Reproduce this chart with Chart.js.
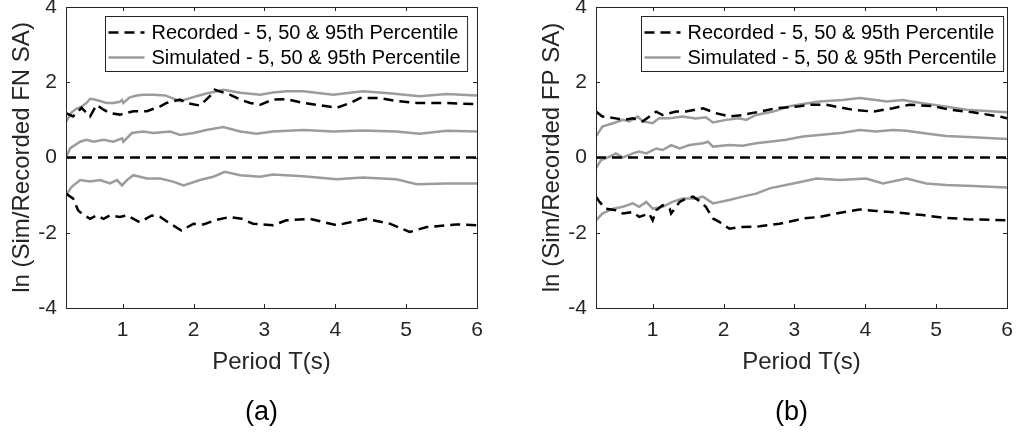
<!DOCTYPE html>
<html>
<head>
<meta charset="utf-8">
<script src="https://cdn.jsdelivr.net/npm/chart.js@4.4.1/dist/chart.umd.min.js"></script>
<style>
  html, body { margin: 0; padding: 0; background: #fff; }
  #wrap { position: relative; width: 1016px; height: 434px; overflow: hidden; }
  #chartA { position: absolute; left: 0; top: 0; }
  #chartB { position: absolute; left: 530px; top: 0; }
</style>
</head>
<body>
<div id="wrap">
  <canvas id="chartA" width="500" height="434"></canvas>
  <canvas id="chartB" width="486" height="434"></canvas>
</div>
<script>
// axis ticks
const xTicks = [1, 2, 3, 4, 5, 6];
const yTicks = [-4, -2, 0, 2, 4];

const recLabel = 'Recorded - 5, 50 & 95th Percentile';
const simLabel = 'Simulated - 5, 50 & 95th Percentile';

// ---- panel (a): FN ----
const aRec95T = [0.2, 0.3, 0.42, 0.54, 0.63, 0.73, 0.82, 0.96, 1.15, 1.34, 1.53, 1.62, 1.81, 1.9, 2.09, 2.23, 2.3, 2.51, 2.66, 2.8, 2.94, 3.12, 3.31, 3.55, 3.88, 4.02, 4.21, 4.35, 4.63, 4.86, 5.15, 5.57, 5.94, 6.0];
const aRec95  = [1.18, 1.09, 1.32, 1.09, 1.4, 1.27, 1.18, 1.14, 1.23, 1.23, 1.36, 1.45, 1.54, 1.45, 1.38, 1.63, 1.8, 1.67, 1.54, 1.45, 1.4, 1.54, 1.55, 1.45, 1.36, 1.32, 1.45, 1.58, 1.58, 1.5, 1.45, 1.45, 1.42, 1.42];
const aRec50T = [0.2, 6.0];
const aRec50  = [0, 0];
const aRec5T  = [0.2, 0.3, 0.37, 0.42, 0.54, 0.63, 0.73, 0.82, 0.96, 1.06, 1.24, 1.41, 1.53, 1.67, 1.83, 2.0, 2.14, 2.3, 2.51, 2.68, 2.84, 3.12, 3.31, 3.64, 4.02, 4.44, 4.77, 5.05, 5.29, 5.71, 6.0];
const aRec5   = [-0.96, -1.09, -1.4, -1.49, -1.63, -1.54, -1.63, -1.54, -1.58, -1.54, -1.72, -1.54, -1.58, -1.76, -1.94, -1.76, -1.78, -1.67, -1.58, -1.63, -1.76, -1.8, -1.67, -1.63, -1.8, -1.63, -1.76, -1.98, -1.85, -1.78, -1.8];

const aSim95T = [0.2, 0.28, 0.35, 0.42, 0.49, 0.54, 0.59, 0.68, 0.77, 0.87, 0.96, 0.99, 1.01, 1.1, 1.2, 1.29, 1.43, 1.6, 1.81, 1.9, 2.04, 2.18, 2.3, 2.42, 2.66, 2.94, 3.12, 3.31, 3.55, 3.97, 4.39, 4.8, 5.19, 5.57, 6.0];
const aSim95  = [0.95, 1.2, 1.3, 1.35, 1.45, 1.56, 1.55, 1.5, 1.45, 1.45, 1.48, 1.53, 1.45, 1.6, 1.65, 1.67, 1.67, 1.65, 1.5, 1.55, 1.63, 1.7, 1.75, 1.8, 1.72, 1.67, 1.73, 1.76, 1.76, 1.67, 1.76, 1.7, 1.63, 1.69, 1.65];
const aSim50T = [0.2, 0.26, 0.4, 0.49, 0.59, 0.73, 0.87, 0.99, 1.01, 1.13, 1.29, 1.43, 1.67, 1.81, 2.0, 2.18, 2.42, 2.66, 2.89, 3.12, 3.55, 3.97, 4.39, 4.86, 5.19, 5.57, 6.0];
const aSim50  = [0, 0.25, 0.42, 0.47, 0.42, 0.47, 0.42, 0.51, 0.42, 0.65, 0.69, 0.65, 0.69, 0.6, 0.65, 0.73, 0.81, 0.69, 0.63, 0.69, 0.73, 0.69, 0.72, 0.69, 0.63, 0.71, 0.69];
const aSim5T  = [0.2, 0.28, 0.4, 0.54, 0.68, 0.82, 0.92, 0.99, 1.06, 1.15, 1.34, 1.53, 1.71, 1.86, 2.09, 2.28, 2.44, 2.66, 2.94, 3.12, 3.55, 4.02, 4.39, 4.86, 5.15, 5.57, 6.0];
const aSim5   = [-1.0, -0.78, -0.6, -0.64, -0.6, -0.69, -0.6, -0.74, -0.6, -0.47, -0.56, -0.56, -0.64, -0.74, -0.6, -0.51, -0.38, -0.47, -0.51, -0.45, -0.5, -0.58, -0.53, -0.58, -0.71, -0.69, -0.69];

// ---- panel (b): FP ----
const bRec95T = [0.2, 0.29, 0.48, 0.58, 0.72, 0.86, 1.05, 1.14, 1.33, 1.47, 1.71, 1.89, 2.08, 2.27, 2.51, 2.74, 3.07, 3.21, 3.45, 3.82, 4.11, 4.39, 4.62, 4.95, 5.19, 5.52, 5.9, 6.0];
const bRec95  = [1.22, 1.09, 1.04, 1.0, 1.04, 0.96, 1.22, 1.13, 1.22, 1.22, 1.31, 1.18, 1.09, 1.13, 1.22, 1.31, 1.36, 1.4, 1.4, 1.27, 1.22, 1.31, 1.4, 1.37, 1.27, 1.2, 1.09, 1.04];
const bRec50T = [0.2, 6.0];
const bRec50  = [0, 0];
const bRec5T  = [0.2, 0.25, 0.34, 0.48, 0.58, 0.72, 0.81, 0.95, 1.0, 1.05, 1.14, 1.24, 1.26, 1.38, 1.47, 1.57, 1.68, 1.75, 1.85, 1.94, 2.08, 2.22, 2.51, 2.79, 3.02, 3.12, 3.35, 3.59, 3.92, 4.15, 4.48, 4.81, 5.1, 5.43, 6.0];
const bRec5   = [-1.04, -1.18, -1.36, -1.4, -1.49, -1.45, -1.58, -1.49, -1.67, -1.4, -1.27, -1.36, -1.49, -1.18, -1.09, -1.04, -1.18, -1.31, -1.62, -1.71, -1.89, -1.85, -1.83, -1.76, -1.67, -1.62, -1.58, -1.49, -1.38, -1.42, -1.47, -1.53, -1.6, -1.64, -1.67];

const bSim95T = [0.2, 0.29, 0.44, 0.58, 0.67, 0.79, 0.86, 1.0, 1.09, 1.24, 1.42, 1.61, 1.75, 1.85, 2.04, 2.22, 2.32, 2.46, 2.7, 2.93, 3.12, 3.35, 3.68, 3.92, 4.15, 4.3, 4.53, 4.81, 5.1, 5.43, 6.0];
const bSim95  = [0.56, 0.82, 0.91, 1.0, 0.96, 1.09, 0.96, 0.91, 1.04, 1.04, 1.09, 1.04, 1.07, 0.93, 1.0, 1.04, 1.0, 1.13, 1.22, 1.36, 1.42, 1.49, 1.53, 1.58, 1.53, 1.49, 1.53, 1.44, 1.36, 1.27, 1.2];
const bSim50T = [0.2, 0.27, 0.39, 0.48, 0.58, 0.72, 0.81, 0.91, 1.05, 1.14, 1.26, 1.38, 1.52, 1.71, 1.78, 1.85, 2.08, 2.27, 2.46, 2.65, 2.88, 3.12, 3.35, 3.68, 3.92, 4.15, 4.39, 4.58, 4.86, 5.14, 5.52, 6.0];
const bSim50  = [-0.29, -0.07, 0.02, 0.11, 0, 0.11, 0.16, 0.11, 0.24, 0.2, 0.33, 0.24, 0.33, 0.38, 0.42, 0.29, 0.33, 0.31, 0.38, 0.42, 0.47, 0.56, 0.6, 0.66, 0.73, 0.69, 0.73, 0.71, 0.64, 0.57, 0.54, 0.49];
const bSim5T  = [0.2, 0.29, 0.44, 0.58, 0.72, 0.81, 0.91, 1.0, 1.14, 1.28, 1.42, 1.61, 1.71, 1.85, 2.08, 2.27, 2.46, 2.65, 2.88, 3.12, 3.31, 3.64, 4.01, 4.25, 4.58, 4.86, 5.14, 5.52, 6.0];
const bSim5   = [-1.67, -1.49, -1.36, -1.31, -1.22, -1.31, -1.18, -1.36, -1.31, -1.18, -1.09, -1.09, -1.04, -1.22, -1.13, -1.04, -0.96, -0.82, -0.73, -0.64, -0.56, -0.6, -0.56, -0.69, -0.56, -0.69, -0.73, -0.76, -0.8];

const FONT = "'Liberation Sans', Arial, Helvetica, sans-serif";
const AXIS_COLOR = '#262626';
const SIM_COLOR = '#9c9c9c';

Chart.defaults.font.family = FONT;
Chart.defaults.color = AXIS_COLOR;

const pts = (t, v) => t.map((x, i) => ({ x: x, y: v[i] }));

// MATLAB style box, inward ticks, inside legend and (a)/(b) caption
const matlabFrame = {
    id: 'matlabFrame',
    afterDraw(chart, args, opts) {
        const { ctx, chartArea: a, scales } = chart;
        ctx.save();
        ctx.strokeStyle = AXIS_COLOR;
        ctx.lineWidth = 1;
        ctx.setLineDash([]);
        ctx.strokeRect(Math.round(a.left) + 0.5, Math.round(a.top) + 0.5,
            Math.round(a.right - a.left), Math.round(a.bottom - a.top));
        ctx.beginPath();
        xTicks.forEach(v => {
            const px = Math.round(scales.x.getPixelForValue(v)) + 0.5;
            ctx.moveTo(px, a.bottom); ctx.lineTo(px, a.bottom - 4);
            ctx.moveTo(px, a.top); ctx.lineTo(px, a.top + 4);
        });
        yTicks.forEach(v => {
            const py = Math.round(scales.y.getPixelForValue(v)) + 0.5;
            ctx.moveTo(a.left, py); ctx.lineTo(a.left + 4, py);
            ctx.moveTo(a.right, py); ctx.lineTo(a.right - 4, py);
        });
        ctx.stroke();

        // legend box
        ctx.font = '20px ' + FONT;
        const items = opts.entries.map(i => chart.data.datasets[i]);
        const textW = Math.max(...items.map(d => ctx.measureText(d.label).width));
        const boxW = 46 + textW + 7;
        const boxH = 55;
        const bx = Math.round(a.right - opts.margin - boxW) + 0.5;
        const by = Math.round(a.top + 9) + 0.5;
        ctx.fillStyle = '#fff';
        ctx.fillRect(bx, by, boxW, boxH);
        ctx.strokeStyle = AXIS_COLOR;
        ctx.strokeRect(bx, by, boxW, boxH);
        items.forEach((d, i) => {
            const ry = by + 16 + i * 25;
            ctx.beginPath();
            ctx.strokeStyle = d.borderColor;
            ctx.lineWidth = d.borderWidth;
            ctx.setLineDash(d.borderDash || []);
            ctx.moveTo(bx + 3, ry);
            ctx.lineTo(bx + 39, ry);
            ctx.stroke();
            ctx.setLineDash([]);
            ctx.fillStyle = '#000';
            ctx.textAlign = 'left';
            ctx.textBaseline = 'middle';
            ctx.fillText(d.label, bx + 46, ry + 1);
        });

        // caption under the axes
        ctx.font = '27px ' + FONT;
        ctx.fillStyle = '#000';
        ctx.textAlign = 'center';
        ctx.textBaseline = 'middle';
        ctx.fillText(opts.caption, (a.left + a.right) / 2 - 10, 413);
        ctx.restore();
    }
};

function makePanel(id, yTitle, caption, padRight, legendMargin, rec, sim) {
    const datasets = [];
    rec.forEach(s => datasets.push({
        label: recLabel, data: pts(s[0], s[1]),
        borderColor: '#000', borderWidth: 2.5, borderDash: [10, 6], order: 0
    }));
    sim.forEach(s => datasets.push({
        label: simLabel, data: pts(s[0], s[1]),
        borderColor: SIM_COLOR, borderWidth: 2.5, order: 1
    }));

    return new Chart(document.getElementById(id), {
        type: 'line',
        data: { datasets: datasets },
        options: {
            responsive: false,
            animation: false,
            layout: { padding: { top: 7, right: padRight, left: 0, bottom: 0 } },
            elements: { point: { radius: 0 }, line: { tension: 0 } },
            plugins: {
                legend: { display: false },
                tooltip: { enabled: false },
                matlabFrame: { entries: [0, 3], margin: legendMargin, caption: caption }
            },
            scales: {
                x: {
                    type: 'linear', min: 0.2, max: 6,
                    afterBuildTicks: s => { s.ticks = xTicks.map(v => ({ value: v })); },
                    afterFit: s => { s.height = 126; s.paddingLeft = 0; s.paddingRight = 0; },
                    grid: { display: false, drawTicks: false },
                    border: { display: false },
                    ticks: { color: AXIS_COLOR, font: { size: 21 }, padding: 10, maxRotation: 0, autoSkip: false },
                    title: { display: true, text: 'Period T(s)', color: AXIS_COLOR, font: { size: 24 }, padding: { top: 0, bottom: 57.6 } }
                },
                y: {
                    type: 'linear', min: -4, max: 4,
                    afterBuildTicks: s => { s.ticks = yTicks.map(v => ({ value: v })); },
                    afterFit: s => { s.width = 66; s.paddingTop = 0; s.paddingBottom = 0; },
                    grid: { display: false, drawTicks: false },
                    border: { display: false },
                    ticks: { color: AXIS_COLOR, font: { size: 21 }, padding: 9 },
                    title: { display: true, text: yTitle, color: AXIS_COLOR, font: { size: 24 }, padding: { top: 7.6, bottom: 0 } }
                }
            }
        },
        plugins: [matlabFrame]
    });
}

makePanel('chartA', 'ln (Sim/Recorded FN SA)', '(a)', 23, 10,
    [[aRec95T, aRec95], [aRec50T, aRec50], [aRec5T, aRec5]],
    [[aSim95T, aSim95], [aSim50T, aSim50], [aSim5T, aSim5]]);

makePanel('chartB', 'ln (Sim/Recorded FP SA)', '(b)', 9, 4,
    [[bRec95T, bRec95], [bRec50T, bRec50], [bRec5T, bRec5]],
    [[bSim95T, bSim95], [bSim50T, bSim50], [bSim5T, bSim5]]);
</script>
</body>
</html>
